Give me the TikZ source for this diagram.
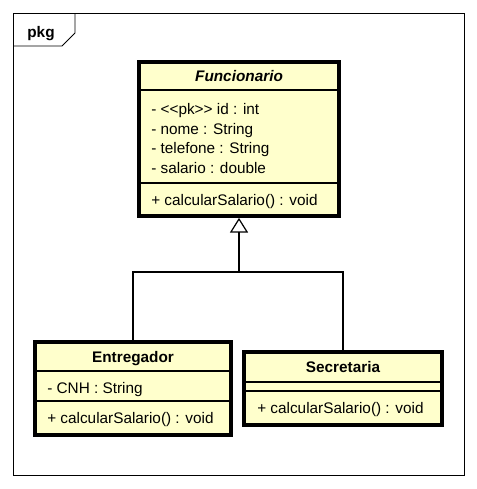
\documentclass[tikz,border=0pt]{standalone}
\usepackage{fontspec}
\setmainfont{Liberation Sans}
\usetikzlibrary{arrows.meta}
\definecolor{classfill}{RGB}{255,255,204}
\tikzset{
  classbox/.style={draw, fill=classfill, line width=2.8pt, inner sep=0pt},
  txt/.style={inner sep=0pt, text height=8.2pt, text depth=0pt, font=\fontsize{11.5}{14}\selectfont},
  attr/.style={txt, anchor=west},
  title/.style={txt, font=\fontsize{11.5}{14}\selectfont\bfseries},
  sep/.style={line width=0.8pt},
  conn/.style={line width=0.9pt}
}
\begin{document}
\begin{tikzpicture}[x=0.75pt, y=-0.75pt]
  \useasboundingbox (0,0) rectangle (477,489);
  \draw[line width=0.75pt] (13.5,13.5) rectangle (464.5,475.5);
  \draw[line width=0.6pt] (13.5,46) -- (62,46) -- (75,33) -- (75,13.5);
  \draw (41,32) node[title] (pkg){pkg};

  \draw
    (239,139) node[classbox, minimum width=150pt, minimum height=115.5pt] (func){}
    (133,388.5) node[classbox, minimum width=147pt, minimum height=69.75pt] (entr){}
    (343,388.5) node[classbox, minimum width=148.5pt, minimum height=54.75pt] (secr){};
  \begin{scope}[sep]
    \draw (139,90) -- (339,90);
    \draw (139,183) -- (339,183);
    \draw (35,371) -- (231,371);
    \draw (35,401) -- (231,401);
    \draw (244,382) -- (442,382);
    \draw (244,391) -- (442,391);
  \end{scope}

  \draw
    (239,76) node[title, font=\fontsize{11.5}{14}\selectfont\bfseries\itshape] (funcname){Funcionario}
    (151,109.5) node[attr] (fa1){- <{}<pk>{}> id : int}
    (151,129) node[attr] (fa2){- nome : String}
    (151,148.5) node[attr] (fa3){- telefone : String}
    (151,168) node[attr] (fa4){- salario : double}
    (151,200) node[attr] (fm1){+ calcularSalario() : void}
    (133,357) node[title] (entrname){Entregador}
    (47,388) node[attr] (ea1){- CNH : String}
    (47,418) node[attr] (em1){+ calcularSalario() : void}
    (343,367) node[title] (secrname){Secretaria}
    (257,408) node[attr] (sm1){+ calcularSalario() : void};

  \coordinate (join) at (239,272);
  \begin{scope}[conn]
    \draw (entr.north) |- (join);
    \draw (secr.north) |- (join);
    \draw[-{Triangle[open, fill=white, length=11pt, width=13.5pt, line width=0.9pt]}] (join) -- (func.south);
  \end{scope}
\end{tikzpicture}
\end{document}
